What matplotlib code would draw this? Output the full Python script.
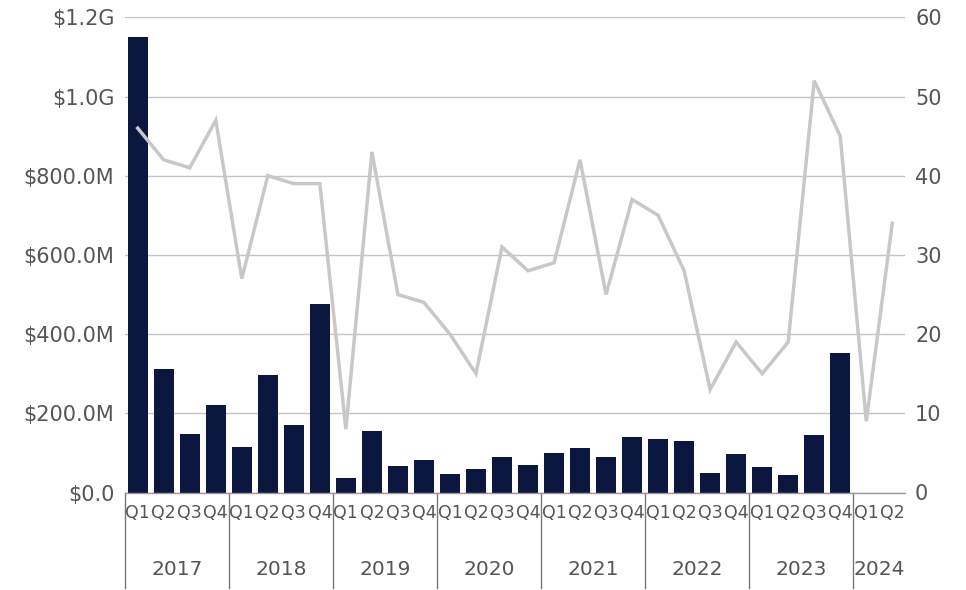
import matplotlib
matplotlib.use("Agg")
import matplotlib.pyplot as plt
import matplotlib.transforms as mtransforms
from matplotlib.ticker import FuncFormatter, MultipleLocator
import numpy as np

plt.rcParams['font.family'] = ['DejaVu Sans']

years = ["2017", "2018", "2019", "2020", "2021", "2022", "2023", "2024"]
quarters_per_year = [4, 4, 4, 4, 4, 4, 4, 2]
quarter_labels = ["Q1", "Q2", "Q3", "Q4"]

# Amount in millions of dollars (left axis); 0 = no bar
amounts_m = [1150, 312, 148, 220,
             115, 297, 171, 476,
             37, 156, 67, 81,
             46, 60, 89, 70,
             99, 113, 89, 140,
             135, 131, 50, 96,
             65, 45, 144, 352,
             0, 0]

# Count (right axis)
counts = [46, 42, 41, 47,
          27, 40, 39, 39,
          8, 43, 25, 24,
          20, 15, 31, 28,
          29, 42, 25, 37,
          35, 28, 13, 19,
          15, 19, 52, 45,
          9, 34]

xlabels = []
for y, n in zip(years, quarters_per_year):
    xlabels += quarter_labels[:n]
x = np.arange(len(xlabels))

W, H = 966, 590
fig = plt.figure(figsize=(W / 100, H / 100), dpi=100)
left, right, bottom, top = 124.7, 905.3, 492.5, 17.3
ax = fig.add_axes([left / W, 1 - bottom / H, (right - left) / W, (bottom - top) / H])

bar_color = "#0c1740"
ax.bar(x, [v * 1e6 for v in amounts_m], width=0.77, color=bar_color, zorder=2)
ax.set_xlim(-0.5, len(x) - 0.5)
ax.set_ylim(0, 1.2e9)
ax.yaxis.set_major_locator(MultipleLocator(2e8))


def money(v, pos):
    if v == 0:
        return "$0.0"
    if v >= 1e9:
        return f"${v / 1e9:.1f}G"
    return f"${v / 1e6:.1f}M"


ax.yaxis.set_major_formatter(FuncFormatter(money))
ax.grid(axis="y", color="#c4c4c4", linewidth=1.0, zorder=0)
ax.set_axisbelow(True)
for s in ["top", "right", "left"]:
    ax.spines[s].set_visible(False)
ax.spines["bottom"].set_color("#999999")
ax.spines["bottom"].set_linewidth(1.0)

label_color = "#555555"
ax.tick_params(axis="y", length=0, pad=7.5, labelsize=15, labelcolor=label_color)
ax.set_xticks(x)
ax.set_xticklabels(xlabels)
ax.tick_params(axis="x", length=0, pad=8, labelsize=12.5, labelcolor=label_color)

ax2 = ax.twinx()
ax2.plot(x, counts, color="#c8c8c8", linewidth=2.5, zorder=3, solid_joinstyle="miter")
ax2.set_ylim(0, 60)
ax2.yaxis.set_major_locator(MultipleLocator(10))
ax2.tick_params(axis="y", length=0, pad=7, labelsize=15, labelcolor=label_color)
for s in ["top", "right", "left", "bottom"]:
    ax2.spines[s].set_visible(False)

# Year grouping
trans = mtransforms.blended_transform_factory(ax.transData, ax.transAxes)
sep_bottom = -(588 - bottom) / (bottom - top)
year_y = -(569.5 - bottom) / (bottom - top)
start = 0
for yname, n in zip(years, quarters_per_year):
    ax.plot([start - 0.5, start - 0.5], [0, sep_bottom], transform=trans,
            color="#777777", linewidth=1.0, clip_on=False)
    ax.text(start + (n - 1) / 2, year_y, yname, transform=trans, ha="center",
            va="center", fontsize=14.5, color=label_color)
    start += n

fig.savefig("out.png", dpi=100)
